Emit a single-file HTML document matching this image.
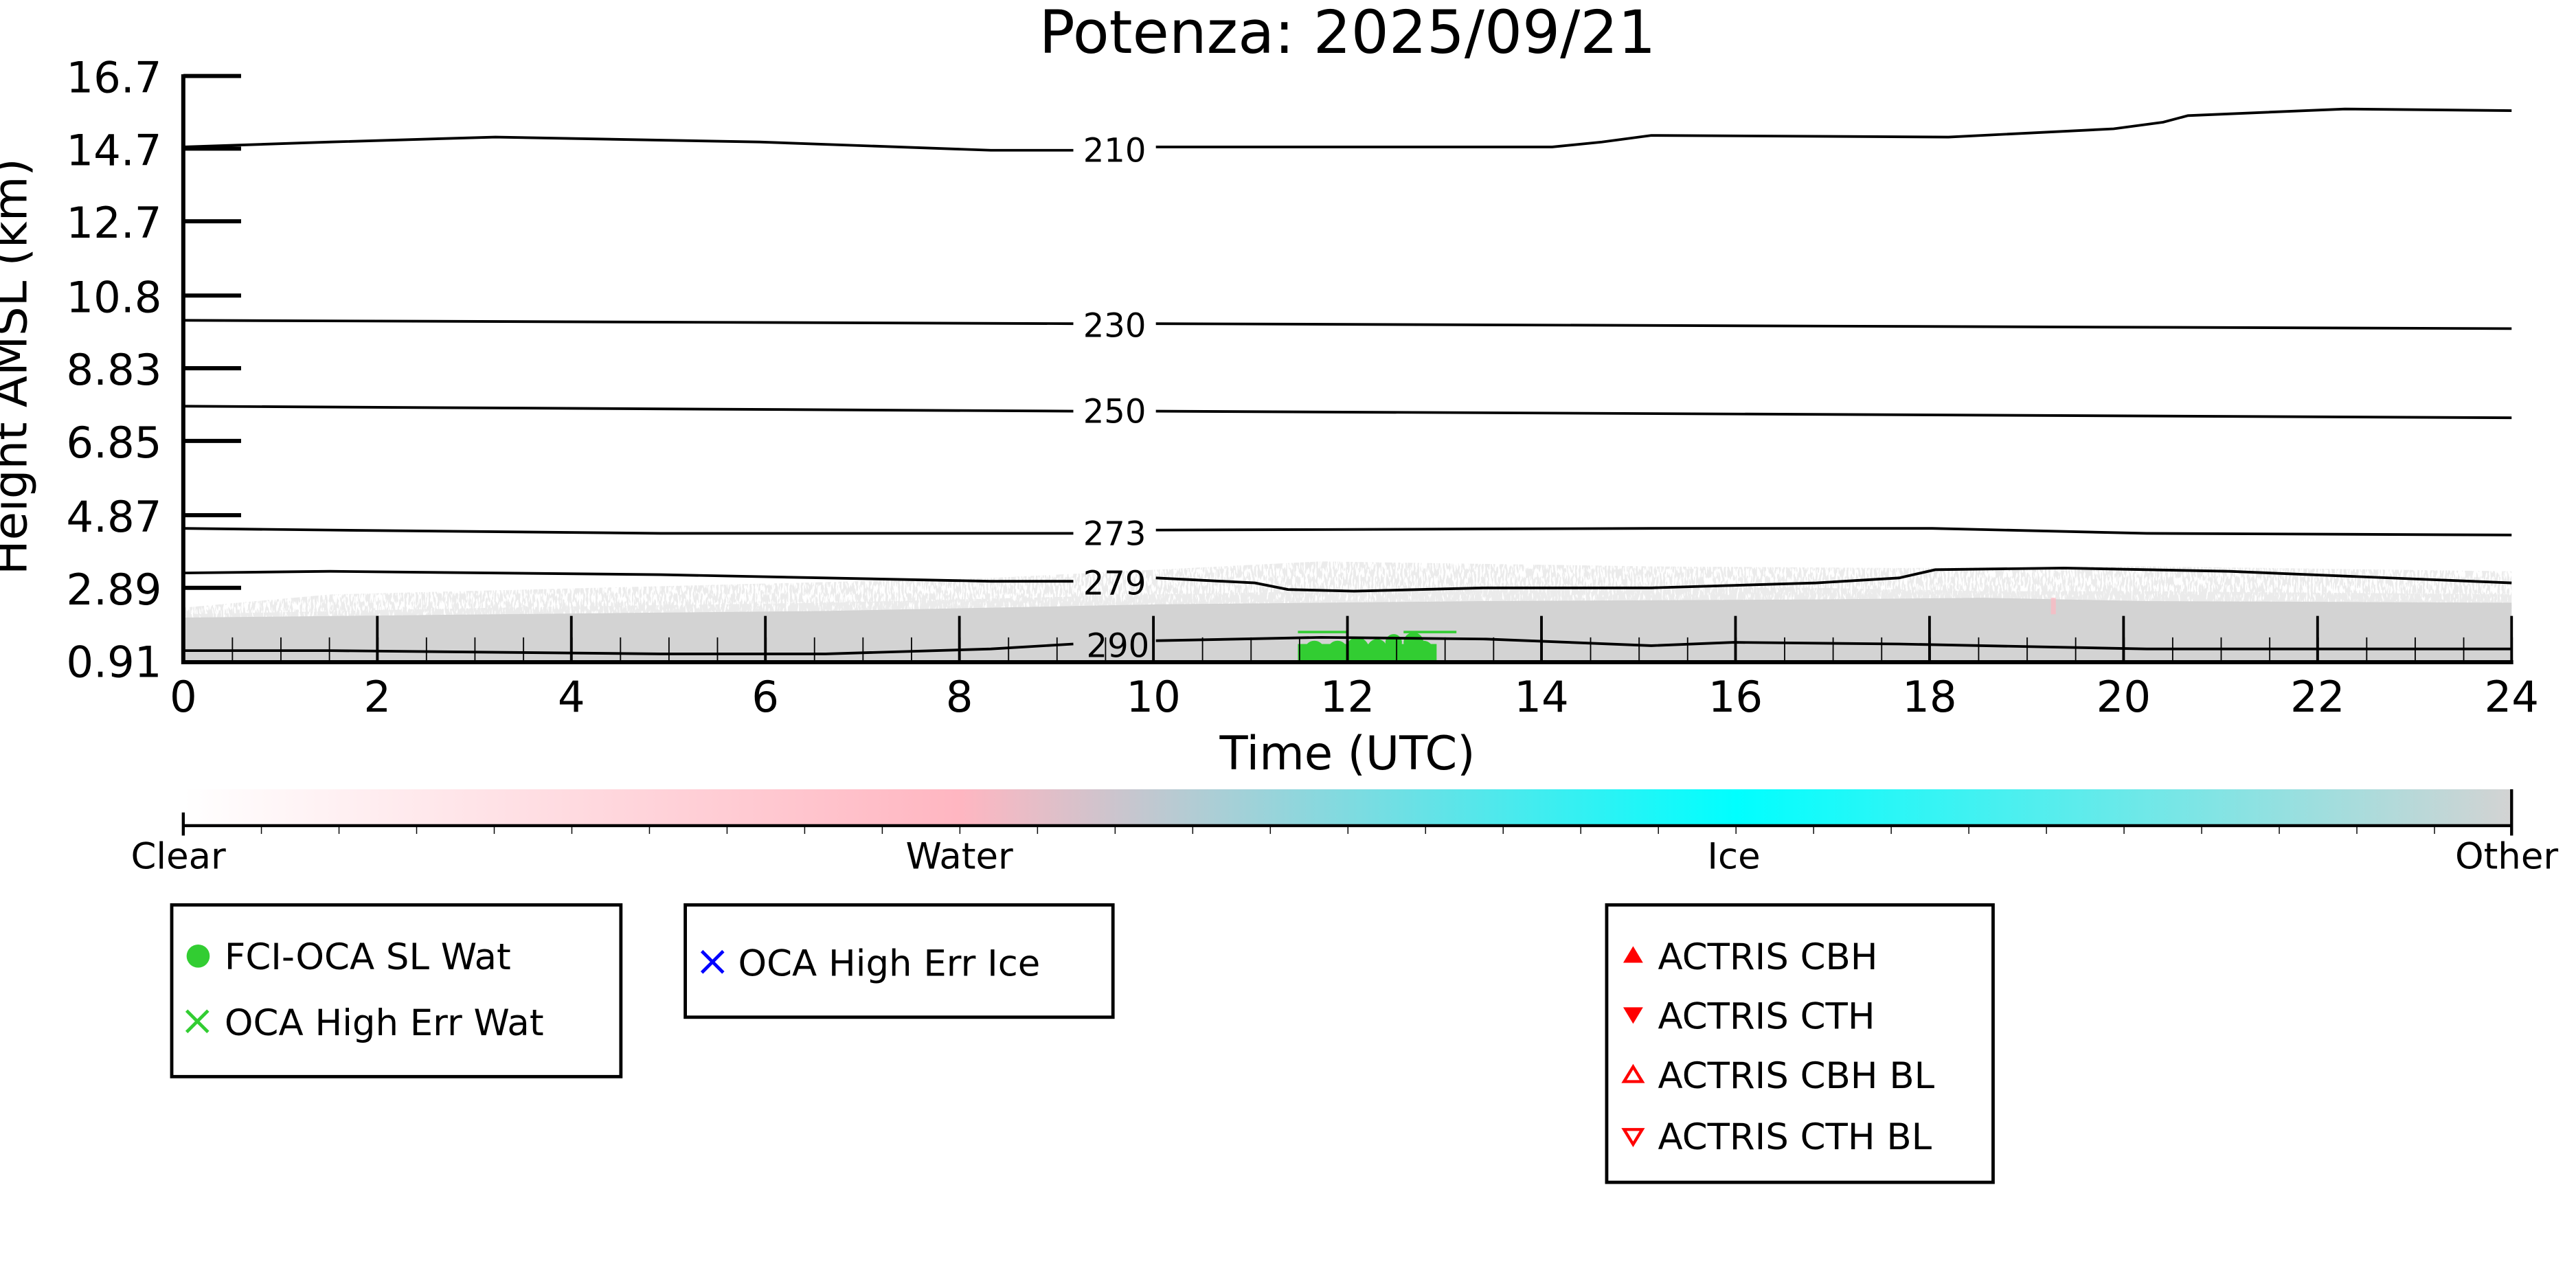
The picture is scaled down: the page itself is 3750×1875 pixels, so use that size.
<!DOCTYPE html>
<html><head><meta charset="utf-8"><style>
html,body{margin:0;padding:0;background:#fff;}
svg{display:block;}
text{font-family:"DejaVu Sans","Liberation Sans",sans-serif;fill:#000;}
</style></head><body>
<svg width="3750" height="1875" viewBox="0 0 1560 780" xmlns="http://www.w3.org/2000/svg">
<defs>
<pattern id="minor" x="111" y="0" width="29.375" height="780" patternUnits="userSpaceOnUse">
<rect x="-0.75" y="0" width="1.5" height="780" fill="#000"/></pattern>
<pattern id="cbt" x="111" y="0" width="47" height="780" patternUnits="userSpaceOnUse">
<rect x="-0.6" y="0" width="1.2" height="780" fill="#000"/></pattern>
<linearGradient id="cg" x1="0" x2="1" y1="0" y2="0">
<stop offset="0" stop-color="#ffffff"/>
<stop offset="0.333" stop-color="#ffb6c1"/>
<stop offset="0.667" stop-color="#00ffff"/>
<stop offset="1" stop-color="#d3d3d3"/>
</linearGradient>
<filter id="noise" x="0" y="0" width="1" height="1">
<feTurbulence type="fractalNoise" baseFrequency="0.9 0.2" numOctaves="2" seed="3" result="n"/>
<feColorMatrix in="n" type="matrix" values="0 0 0 0 0.83  0 0 0 0 0.83  0 0 0 0 0.83  0 0 0 14 -6.3"/>
<feComposite in2="SourceGraphic" operator="in"/>
</filter>
<filter id="noise2" x="0" y="0" width="1" height="1">
<feTurbulence type="fractalNoise" baseFrequency="0.9 0.2" numOctaves="2" seed="7" result="n"/>
<feColorMatrix in="n" type="matrix" values="0 0 0 0 0.83  0 0 0 0 0.83  0 0 0 0 0.83  0 0 0 14 -5.6"/>
<feComposite in2="SourceGraphic" operator="in"/>
</filter>
</defs>

<text x="816" y="32" font-size="36" text-anchor="middle">Potenza: 2025/09/21</text>

<!-- cloud noise band -->
<path d="M111,368 L200,360 L400,355 L600,350 L700,345 L800,340 L1000,343 L1150,344 L1300,343 L1521,346 L1521,372 L111,380 Z" fill="#fff" filter="url(#noise)"/>
<path d="M111,372 L300,368 L500,365 L700,360 L900,356 L1100,356 L1200,358 L1300,358 L1521,360 L1521,372 L111,380 Z" fill="#fff" filter="url(#noise2)"/>
<path d="M111,374 L300,372 L500,370 L700,366 L900,364 L1100,363 L1200,362 L1300,364 L1521,365 L1521,400 L111,400 Z" fill="#d3d3d3"/>
<rect x="1242" y="362" width="3" height="10" fill="#ffb6c1" opacity="0.7"/>

<!-- green retrievals -->
<g fill="#32cd32">
<circle cx="796" cy="394" r="6"/><circle cx="810" cy="394" r="6"/><circle cx="822" cy="393" r="7"/><circle cx="834" cy="393" r="6"/><circle cx="844" cy="389" r="5"/><circle cx="856" cy="389" r="6"/><circle cx="862" cy="394" r="6"/>
<rect x="786" y="390" width="84" height="10"/>
<rect x="786" y="382" width="30" height="1.5"/><rect x="850" y="382" width="32" height="1.5"/>
</g>

<!-- contours -->
<g fill="none" stroke="#000" stroke-width="1.6">
<path d="M111,89 L200,86 L300,83 L460,86 L600,91 L650,91"/>
<path d="M700,89 L940,89 L970,86 L1000,82 L1180,83 L1280,78 L1310,74 L1325,70 L1420,66 L1521,67"/>
<path d="M111,194 L650,196"/><path d="M700,196 L1521,199"/>
<path d="M111,246 L650,249"/><path d="M700,249 L1521,253"/>
<path d="M111,320 L200,321 L400,323 L650,323"/><path d="M700,321 L1000,320 L1170,320 L1300,323 L1521,324"/>
<path d="M111,347 L200,346 L400,348 L600,352 L650,352"/><path d="M700,350 L760,353 L780,357 L820,358 L900,356 L1000,356 L1100,353 L1150,350 L1172,345 L1250,344 L1350,346 L1521,353"/>
<path d="M111,394 L200,394 L400,396 L500,396 L600,393 L650,390"/><path d="M700,388 L800,386 L900,387 L1000,391 L1050,389 L1150,390 L1300,393 L1521,393"/>
</g>
<g font-size="20" text-anchor="middle">
<text x="675" y="98">210</text><text x="675" y="204">230</text><text x="675" y="256">250</text>
<text x="675" y="330">273</text><text x="675" y="360">279</text><text x="677" y="398">290</text>
</g>

<!-- x ticks -->
<rect x="110" y="386" width="1412" height="14" fill="url(#minor)"/>
<g stroke="#000" stroke-width="1.6">
<path d="M228.5,373V400M346,373V400M463.5,373V400M581,373V400M698.5,373V400M816,373V400M933.5,373V400M1051,373V400M1168.5,373V400M1286,373V400M1403.5,373V400M1521,373V400"/>
</g>
<!-- axes -->
<path d="M111,45 V401 H1522" fill="none" stroke="#000" stroke-width="2.5"/>
<g stroke="#000" stroke-width="2.5">
<path d="M111,46H146M111,90H146M111,134H146M111,179H146M111,223H146M111,267H146M111,312H146M111,356H146"/>
</g>
<g font-size="26" text-anchor="end">
<text x="98" y="56">16.7</text><text x="98" y="100">14.7</text><text x="98" y="144">12.7</text>
<text x="98" y="189">10.8</text><text x="98" y="233">8.83</text><text x="98" y="277">6.85</text>
<text x="98" y="322">4.87</text><text x="98" y="366">2.89</text><text x="98" y="410">0.91</text>
</g>
<text transform="translate(16,222) rotate(-90)" font-size="28" text-anchor="middle">Height AMSL (km)</text>
<g font-size="26" text-anchor="middle">
<text x="111" y="431">0</text><text x="228.5" y="431">2</text><text x="346" y="431">4</text><text x="463.5" y="431">6</text>
<text x="581" y="431">8</text><text x="698.5" y="431">10</text><text x="816" y="431">12</text><text x="933.5" y="431">14</text>
<text x="1051" y="431">16</text><text x="1168.5" y="431">18</text><text x="1286" y="431">20</text><text x="1403.5" y="431">22</text><text x="1521" y="431">24</text>
</g>
<text x="816" y="466" font-size="28" text-anchor="middle">Time (UTC)</text>

<!-- colorbar -->
<rect x="111" y="478" width="1410" height="22" fill="url(#cg)"/>
<rect x="110" y="500" width="1412" height="5" fill="url(#cbt)"/>
<path d="M111,500H1521M111,492V506M1521,478V506" stroke="#000" stroke-width="1.8"/>
<g font-size="22" text-anchor="middle">
<text x="108" y="526">Clear</text><text x="581" y="526">Water</text><text x="1050" y="526">Ice</text><text x="1518" y="526">Other</text>
</g>

<!-- legends -->
<g fill="none" stroke="#000" stroke-width="2">
<rect x="104" y="548" width="272" height="104"/>
<rect x="415" y="548" width="259" height="68"/>
<rect x="973" y="548" width="234" height="168"/>
</g>
<g font-size="22">
<circle cx="120" cy="579" r="7" fill="#32cd32"/>
<text x="136" y="587">FCI-OCA SL Wat</text>
<path d="M113,612l13,13M126,612l-13,13" stroke="#32cd32" stroke-width="2"/>
<text x="136" y="627">OCA High Err Wat</text>
<path d="M425,576l13,13M438,576l-13,13" stroke="#0000ff" stroke-width="2"/>
<text x="447" y="591">OCA High Err Ice</text>
<path d="M983,583l6,-10l6,10z" fill="#ff0000"/>
<text x="1004" y="587">ACTRIS CBH</text>
<path d="M983,610l6,10l6,-10z" fill="#ff0000"/>
<text x="1004" y="623">ACTRIS CTH</text>
<path d="M983.5,655l5.5,-9l5.5,9z" fill="none" stroke="#ff0000" stroke-width="1.8"/>
<text x="1004" y="659">ACTRIS CBH BL</text>
<path d="M983.5,684l5.5,9l5.5,-9z" fill="none" stroke="#ff0000" stroke-width="1.8"/>
<text x="1004" y="696">ACTRIS CTH BL</text>
</g>
</svg>
</body></html>
